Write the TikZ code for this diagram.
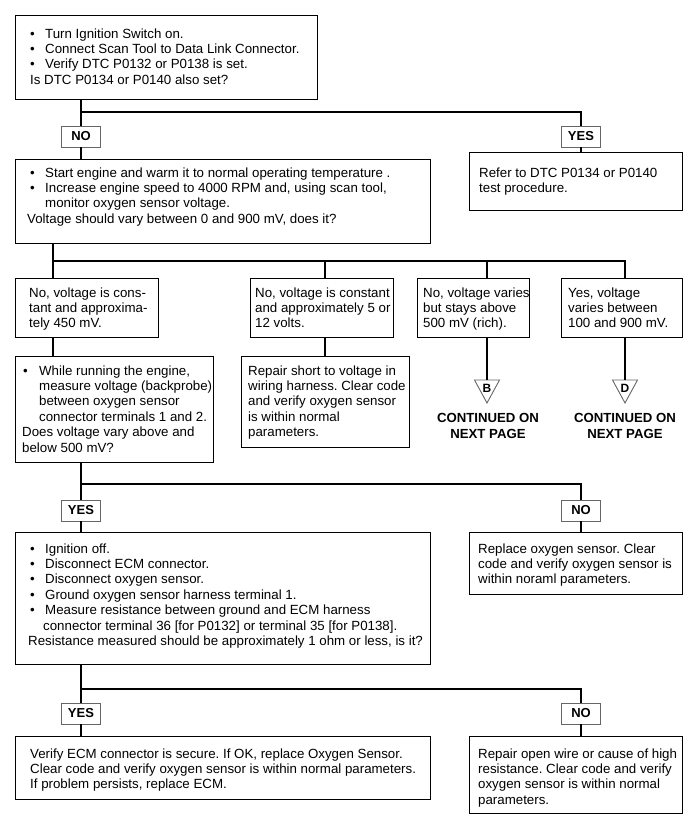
\documentclass[tikz,border=0pt]{standalone}
\usepackage{fontspec}
\setmainfont{Liberation Sans}
\usetikzlibrary{calc}
\frenchspacing
\newcommand\bl[1]{\makebox[15pt][l]{\textbullet}#1}
\newcommand\ind{\hspace*{15pt}}
\newcommand\fbx[5]{\node[box,anchor=north west,minimum width={(#4-#2)*1pt},minimum height={(#5-#3)*1pt}] (#1) at (#2,#3) {};}
\newcommand\tx[4]{\node[txt,anchor=base west] (#1) at (#2,#3) {\parbox[t]{420pt}{\frenchspacing #4}};}
\tikzset{
  box/.style={draw=black,line width=1.3pt,inner sep=0pt,fill=white},
  txt/.style={inner sep=0pt,font=\fontsize{13.3}{15.4}\selectfont},
  lbl/.style={draw=black!60,line width=0.9pt,fill=white,minimum width=39pt,minimum height=21pt,inner sep=0pt,font=\fontsize{13}{13}\selectfont\bfseries},
  wire/.style={line width=1.3pt,draw=black},
  tri/.style={draw=black!60,line width=0.9pt,fill=white,line join=miter},
  cont/.style={inner sep=0pt,align=center,font=\fontsize{13.2}{15.6}\selectfont\bfseries},
  letter/.style={inner sep=0pt,font=\fontsize{12}{12}\selectfont\bfseries}
}
\begin{document}
\begin{tikzpicture}[x=1pt,y=-1pt]
\useasboundingbox[fill=white] (0,0) rectangle (700,831);
% boxes
\fbx{b1}{15}{15}{317}{99}
\fbx{b2}{15}{159}{430}{243}
\fbx{r1}{469}{152}{682}{210}
\fbx{a}{15}{278}{158}{337}
\fbx{b}{250}{278}{393}{337}
\fbx{c}{417}{278}{529}{337}
\fbx{d}{561}{278}{682}{337}
\fbx{e}{15}{356}{213}{462}
\fbx{f}{241}{356}{409}{447}
\fbx{g}{15}{532}{430}{664}
\fbx{h}{469}{532}{682}{594}
\fbx{i}{15}{736}{430}{799}
\fbx{j}{469}{736}{682}{813}
% texts
\tx{b1t}{30}{38}{\bl{Turn Ignition Switch on.}\\\bl{Connect Scan Tool to Data Link Connector.}\\\bl{Verify DTC P0132 or P0138 is set.}\\Is DTC P0134 or P0140 also set?}
\tx{b2t}{30}{177}{\bl{Start engine and warm it to normal operating temperature .}\\\bl{Increase engine speed to 4000 RPM and, using scan tool,}\\\ind monitor oxygen sensor voltage.\\\hspace*{-3pt}Voltage should vary between 0 and 900 mV, does it?}
\tx{r1t}{479}{177}{Refer to DTC P0134 or P0140\\test procedure.}
\tx{at}{29}{297}{No, voltage is cons-\\tant and approxima-\\tely 450 mV.}
\tx{bt}{255}{297}{No, voltage is constant\\and approximately 5 or\\12 volts.}
\tx{ct}{423}{297}{No, voltage varies\\but stays above\\500 mV (rich).}
\tx{dt}{568}{297}{Yes, voltage\\varies between\\100 and 900 mV.}
\tx{et}{23}{375}{\makebox[16pt][l]{\textbullet}While running the engine,\\\hspace*{16pt}measure voltage (backprobe)\\\hspace*{16pt}between oxygen sensor\\\hspace*{16pt}connector terminals 1 and 2.\\\hspace*{-1pt}Does voltage vary above and\\\hspace*{-1pt}below 500 mV?}
\tx{ft}{248}{375}{Repair short to voltage in\\wiring harness. Clear code\\and verify oxygen sensor\\is within normal\\parameters.}
\tx{gt}{30}{553}{\bl{Ignition off.}\\\bl{Disconnect ECM connector.}\\\bl{Disconnect oxygen sensor.}\\\bl{Ground oxygen sensor harness terminal 1.}\\\bl{Measure resistance between ground and ECM harness}\\\hspace*{13pt}connector terminal 36 [for P0132] or terminal 35 [for P0138].\\\hspace*{-2pt}Resistance measured should be approximately 1 ohm or less, is it?}
\tx{ht}{478}{553}{Replace oxygen sensor. Clear\\code and verify oxygen sensor is\\within noraml parameters.}
\tx{it}{30}{758}{Verify ECM connector is secure. If OK, replace Oxygen Sensor.\\Clear code and verify oxygen sensor is within normal parameters.\\If problem persists, replace ECM.}
\tx{jt}{478}{758}{Repair open wire or cause of high\\resistance. Clear code and verify\\oxygen sensor is within normal\\parameters.}
% labels
\node[lbl] (no1) at (81,136.5) {NO};
\node[lbl] (yes1) at (581,136.5) {YES};
\node[lbl] (yes2) at (81,510.5) {YES};
\node[lbl] (no2) at (581,510.5) {NO};
\node[lbl] (yes3) at (81,713.5) {YES};
\node[lbl] (no3) at (581,713.5) {NO};
% junctions
\coordinate (j1) at (81,112);
\coordinate (j2) at (53,261);
\coordinate (j3) at (81,484);
\coordinate (j4) at (81,689);
\coordinate (dB) at (487,380);
\coordinate (dD) at (625,380);
% triangles
\draw[tri] (dB) ++(-12.5,0) -- ++(25,0) -- ++(-12.5,23) -- cycle;
\draw[tri] (dD) ++(-12.5,0) -- ++(25,0) -- ++(-12.5,23) -- cycle;
\node[letter] (lB) at (487,388) {B};
\node[letter] (lD) at (625,388) {D};
\node[cont,anchor=base] (cB) at (488,438) {CONTINUED ON\\NEXT PAGE};
\node[cont,anchor=base] (cD) at (625,438) {CONTINUED ON\\NEXT PAGE};
% connectors
\draw[wire] (b1.south -| j1) -- (no1.north);
\draw[wire] (no1.south) -- (b2.north -| no1);
\draw[wire] (j1) -| (yes1.north);
\draw[wire] (yes1.south) -- (r1.north -| yes1);
\draw[wire] (b2.south -| j2) -- (j2) -- (j2 -| dD) -- (d.north -| dD);
\draw[wire] (j2) -- (a.north -| j2);
\draw[wire] (j2 -| 325,0) -- (b.north -| 325,0);
\draw[wire] (j2 -| dB) -- (c.north -| dB);
\draw[wire] (c.south -| dB) -- (dB);
\draw[wire] (d.south -| dD) -- (dD);
\draw[wire] (a.south -| j2) -- (e.north -| j2);
\draw[wire] (b.south -| 325,0) -- (f.north -| 325,0);
\draw[wire] (e.south -| j3) -- (yes2.north);
\draw[wire] (yes2.south) -- (g.north -| yes2);
\draw[wire] (j3) -| (no2.north);
\draw[wire] (no2.south) -- (h.north -| no2);
\draw[wire] (g.south -| j4) -- (yes3.north);
\draw[wire] (yes3.south) -- (i.north -| yes3);
\draw[wire] (j4) -| (no3.north);
\draw[wire] (no3.south) -- (j.north -| no3);
\end{tikzpicture}
\end{document}
